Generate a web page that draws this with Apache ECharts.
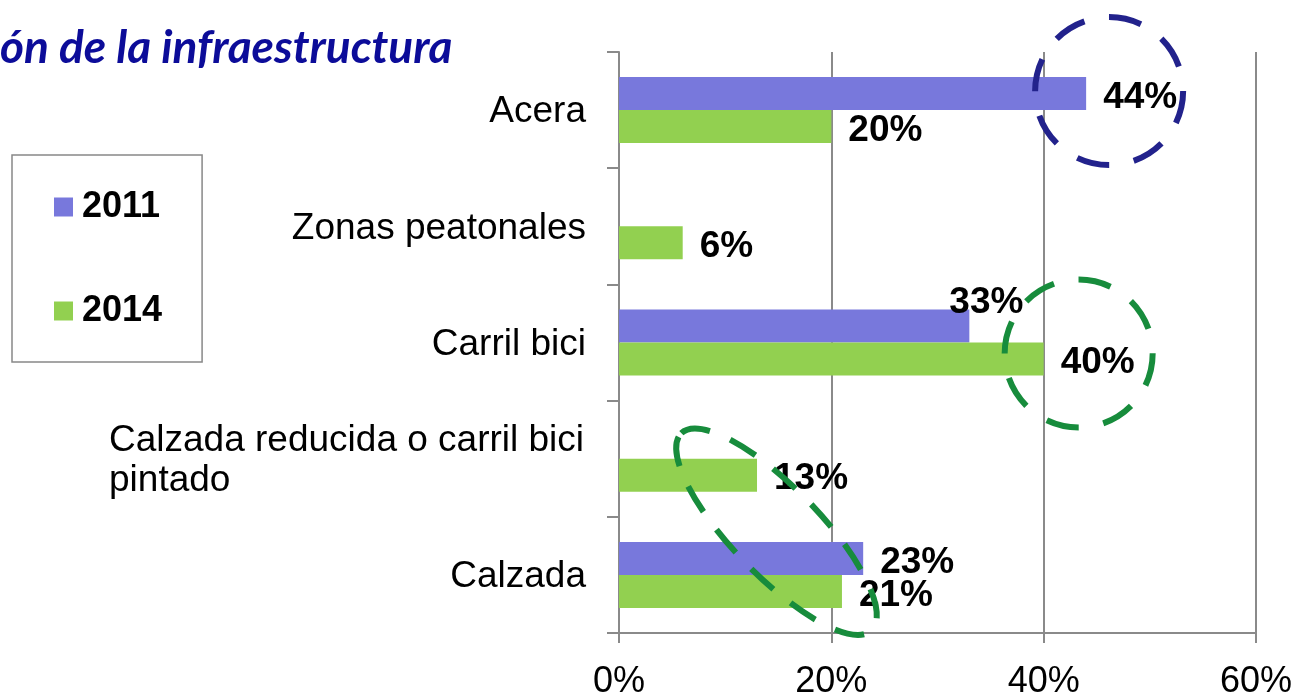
<!DOCTYPE html>
<html>
<head>
<meta charset="utf-8">
<title>Valoración de la infraestructura</title>
<script src="https://cdn.jsdelivr.net/npm/echarts@6/dist/echarts.min.js"></script>
<style>
  html, body { margin: 0; padding: 0; background: #ffffff; }
  #chart { width: 1299px; height: 696px; }
</style>
</head>
<body>
<div id="chart"></div>
<script>
// Share of respondents per infrastructure type (percent)
const categories = ['Acera', 'Zonas peatonales', 'Carril bici', 'Calzada reducida o carril bici pintado', 'Calzada'];
const years = ['2011', '2014'];
const values2011 = [44, null, 33, null, 23];
const values2014 = [20, 6, 40, 13, 21];
const xTicks = { min: 0, max: 60, step: 20 };

const FONT = '"Liberation Sans", Arial, sans-serif';
const AXIS_GRAY = '#8a8a8a';
const COLOR_2011 = '#7878dc';
const COLOR_2014 = '#92d050';

const chart = echarts.init(document.getElementById('chart'));

const labelStyle = {
  show: true,
  position: 'right',
  distance: 17,
  offset: [0, 4],
  fontFamily: FONT,
  fontSize: 37,
  fontWeight: 'bold',
  color: '#000',
  formatter: p => p.value + '%'
};

// 2011 "Carril bici" label sits above the bar end so it clears the highlight ring
const data2011 = values2011.map((v, i) => {
  if (v == null) return '-';
  if (categories[i] === 'Carril bici') return { value: v, label: { offset: [-37, -23] } };
  return v;
});

chart.setOption({
  animation: false,
  backgroundColor: '#ffffff',
  grid: { left: 619, right: 43, top: 52, bottom: 63, containLabel: false, outerBoundsMode: 'none' },
  legend: {
    data: years,
    orient: 'vertical',
    left: 12,
    top: 155,
    padding: [32, 40, 31, 42],
    borderColor: '#888888',
    borderWidth: 1.5,
    itemWidth: 19,
    itemHeight: 19,
    itemGap: 64,
    icon: 'rect',
    textStyle: {
      fontFamily: FONT,
      fontSize: 36,
      fontWeight: 'bold',
      color: '#000',
      lineHeight: 40,
      padding: [0, 0, 0, 4]
    }
  },
  xAxis: {
    type: 'value',
    min: xTicks.min,
    max: xTicks.max,
    interval: xTicks.step,
    axisLine: { show: true, lineStyle: { color: AXIS_GRAY, width: 2 } },
    axisTick: { show: true, length: 10, lineStyle: { color: AXIS_GRAY, width: 2 } },
    splitLine: { show: true, lineStyle: { color: AXIS_GRAY, width: 2 } },
    axisLabel: {
      formatter: '{value}%',
      fontFamily: FONT,
      fontSize: 36,
      color: '#000',
      margin: 31
    }
  },
  yAxis: {
    type: 'category',
    data: categories,
    inverse: true,
    axisLine: { show: true, lineStyle: { color: AXIS_GRAY, width: 2 } },
    axisTick: { show: true, length: 12, lineStyle: { color: AXIS_GRAY, width: 2 } },
    axisLabel: {
      margin: 33,
      fontFamily: FONT,
      fontSize: 37,
      color: '#000',
      lineHeight: 40,
      padding: [4, 0, 0, 0],
      formatter: function (name) {
        const cut = name.indexOf(' pintado');
        if (cut > 0) {
          return '{l|' + name.slice(0, cut) + '}\n{l|' + name.slice(cut + 1) + '}';
        }
        return name;
      },
      rich: {
        l: { width: 477, align: 'left', fontFamily: FONT, fontSize: 37, color: '#000', lineHeight: 40 }
      }
    }
  },
  series: [
    {
      name: years[0],
      type: 'bar',
      data: data2011,
      barWidth: 33,
      barGap: '0%',
      itemStyle: { color: COLOR_2011 },
      label: labelStyle
    },
    {
      name: years[1],
      type: 'bar',
      data: values2014,
      barWidth: 33,
      barGap: '0%',
      itemStyle: { color: COLOR_2014 },
      label: labelStyle
    }
  ]
});

// Highlight rings, anchored to the bars they call out
function at(value, catIndex) {
  return chart.convertToPixel({ gridIndex: 0 }, [value, catIndex]);
}
const pAcera = at(values2011[0], 0);
const pBici = at(values2014[2], 2);
const pPintado = at(values2014[3], 3);

const NAVY = '#22228c';
const DARK_GREEN = '#178c3c';

chart.setOption({
  graphic: [
    {
      type: 'text',
      x: 0,
      y: 48,
      style: {
        text: 'ón de la infraestructura',
        font: 'italic bold 46px Lato, "Open Sans", sans-serif',
        fill: '#0c0c99',
        verticalAlign: 'middle'
      }
    },
    {
      type: 'circle',
      z: 100,
      shape: { cx: pAcera[0] + 23, cy: pAcera[1] - 19, r: 74 },
      style: { fill: 'none', stroke: NAVY, lineWidth: 6, lineDash: [33, 25] }
    },
    {
      type: 'circle',
      z: 100,
      shape: { cx: pBici[0] + 35, cy: pBici[1] + 11, r: 74 },
      style: { fill: 'none', stroke: DARK_GREEN, lineWidth: 6, lineDash: [33, 25] }
    },
    {
      type: 'ellipse',
      z: 100,
      x: pPintado[0] + 19.5,
      y: pPintado[1] + 73,
      rotation: -46 * Math.PI / 180,
      shape: { cx: 0, cy: 0, rx: 137, ry: 44 },
      style: { fill: 'none', stroke: DARK_GREEN, lineWidth: 6, lineDash: [30, 22] }
    }
  ]
});
</script>
</body>
</html>
